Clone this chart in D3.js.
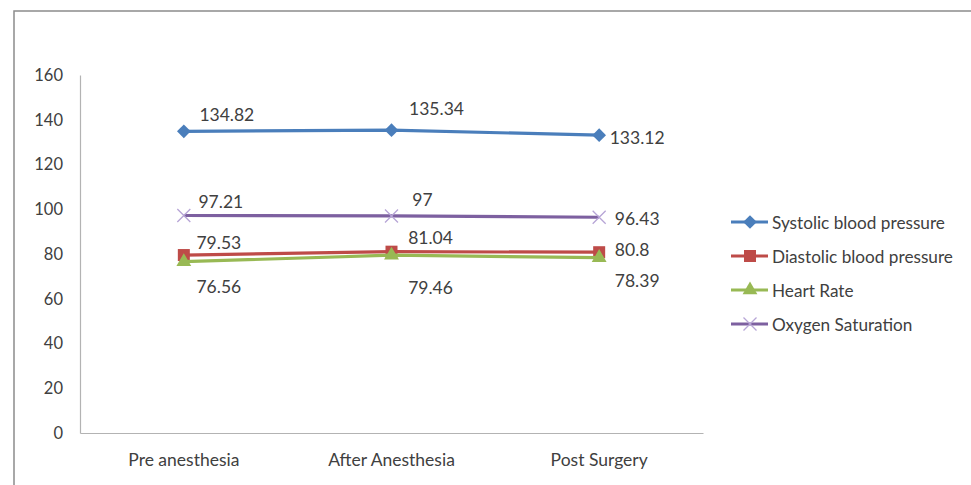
<!DOCTYPE html>
<html>
<head>
<meta charset="utf-8">
<script src="https://cdn.jsdelivr.net/npm/d3@7/dist/d3.min.js"></script>
<style>
  html, body { margin: 0; padding: 0; background: #fff; }
  svg { display: block; }
  text { font-family: Lato, "Open Sans", sans-serif; fill: #404040; }
</style>
</head>
<body>
<svg id="chart" width="971" height="485"></svg>
<script>
// Perioperative vital signs, mean values per stage
const stages = ["Pre anesthesia", "After Anesthesia", "Post Surgery"];
const systolic = [134.82, 135.34, 133.12];
const diastolic = [79.53, 81.04, 80.8];
const heartRate = [76.56, 79.46, 78.39];
const oxygenSat = [97.21, 97, 96.43];
const yTicks = [0, 20, 40, 60, 80, 100, 120, 140, 160];

const seriesNames = ["Systolic blood pressure", "Diastolic blood pressure", "Heart Rate", "Oxygen Saturation"];

// Value-label placement (offset of label centre from its point)
const labelOffsets = {
  "Systolic blood pressure": [[43, -17], [45, -22], [38, 2]],
  "Diastolic blood pressure": [[35, -13], [39, -14], [33, -3]],
  "Heart Rate": [[35, 25], [39, 32], [38, 23]],
  "Oxygen Saturation": [[37, -14], [31, -16], [38, 1]]
};

const series = [
  { name: seriesNames[0], values: systolic, color: "#4a7ebb", marker: "diamond" },
  { name: seriesNames[1], values: diastolic, color: "#be4b48", marker: "square" },
  { name: seriesNames[2], values: heartRate, color: "#98b954", marker: "triangle" },
  { name: seriesNames[3], values: oxygenSat, color: "#7d60a0", marker: "cross" }
];

const svg = d3.select("#chart");

// outer chart frame (runs past the right and bottom edges)
svg.append("rect")
  .attr("x", 14).attr("y", 11)
  .attr("width", 1000).attr("height", 520)
  .attr("fill", "none").attr("stroke", "#8c8c8c").attr("stroke-width", 1.5);

const plot = { left: 80, right: 703, top: 75, bottom: 433 };

const x = d3.scaleBand().domain(stages).range([plot.left, plot.right]);
const y = d3.scaleLinear().domain([0, 160]).range([plot.bottom, plot.top]);
const cx = d => x(d) + x.bandwidth() / 2;

// y axis
const yAxis = svg.append("g")
  .attr("transform", `translate(${plot.left},0)`)
  .call(d3.axisLeft(y).tickValues(yTicks).tickSize(0).tickPadding(17));
yAxis.select(".domain").attr("stroke", "#b3b3b3").attr("stroke-width", 1.2);
yAxis.selectAll("text").style("font-size", "16.5px").attr("fill", "#404040")
  .style("font-family", "Lato, sans-serif");

// x axis
const xAxis = svg.append("g")
  .attr("transform", `translate(0,${plot.bottom})`)
  .call(d3.axisBottom(x).tickSize(0).tickPadding(21));
xAxis.select(".domain").attr("stroke", "#b3b3b3").attr("stroke-width", 1.2);
xAxis.selectAll("text").style("font-size", "17.5px").attr("fill", "#404040")
  .style("font-family", "Lato, sans-serif");

function drawMarker(g, type, color, px, py) {
  if (type === "diamond") {
    g.append("path")
      .attr("d", d3.symbol().type(d3.symbolDiamond2).size(120)())
      .attr("transform", `translate(${px},${py})`)
      .attr("fill", color);
  } else if (type === "square") {
    g.append("rect")
      .attr("x", px - 6).attr("y", py - 6).attr("width", 12).attr("height", 12)
      .attr("fill", color);
  } else if (type === "triangle") {
    g.append("path")
      .attr("d", d3.symbol().type(d3.symbolTriangle).size(95)())
      .attr("transform", `translate(${px},${py})`)
      .attr("fill", color);
  } else if (type === "cross") {
    const s = 6.5;
    g.append("path")
      .attr("d", `M${px - s},${py - s}L${px + s},${py + s}M${px - s},${py + s}L${px + s},${py - s}`)
      .attr("stroke", "#b7a5d6").attr("stroke-width", 1.3).attr("fill", "none");
  }
}

const line = d3.line().x(d => cx(d.stage)).y(d => y(d.value));

series.forEach(s => {
  const pts = stages.map((st, i) => ({ stage: st, value: s.values[i] }));
  const g = svg.append("g");
  g.append("path")
    .datum(pts)
    .attr("d", line)
    .attr("fill", "none")
    .attr("stroke", s.color)
    .attr("stroke-width", 3.2);
  pts.forEach(p => drawMarker(g, s.marker, s.color, cx(p.stage), y(p.value)));
});

// value labels drawn last so they sit above the lines
series.forEach(s => {
  stages.forEach((st, i) => {
    const [dx, dy] = labelOffsets[s.name][i];
    svg.append("text")
      .attr("x", cx(st) + dx)
      .attr("y", y(s.values[i]) + dy)
      .attr("text-anchor", "middle")
      .attr("dominant-baseline", "central")
      .style("font-size", "17.5px")
      .text(s.values[i]);
  });
});

// legend
const legend = svg.append("g");
series.forEach((s, i) => {
  const ly = 222 + i * 34;
  legend.append("line")
    .attr("x1", 731).attr("x2", 768).attr("y1", ly).attr("y2", ly)
    .attr("stroke", s.color).attr("stroke-width", 3);
  drawMarker(legend, s.marker, s.color, 750, ly);
  legend.append("text")
    .attr("x", 772).attr("y", ly)
    .attr("dominant-baseline", "central")
    .style("font-size", "17.2px")
    .text(s.name);
});
</script>
</body>
</html>
